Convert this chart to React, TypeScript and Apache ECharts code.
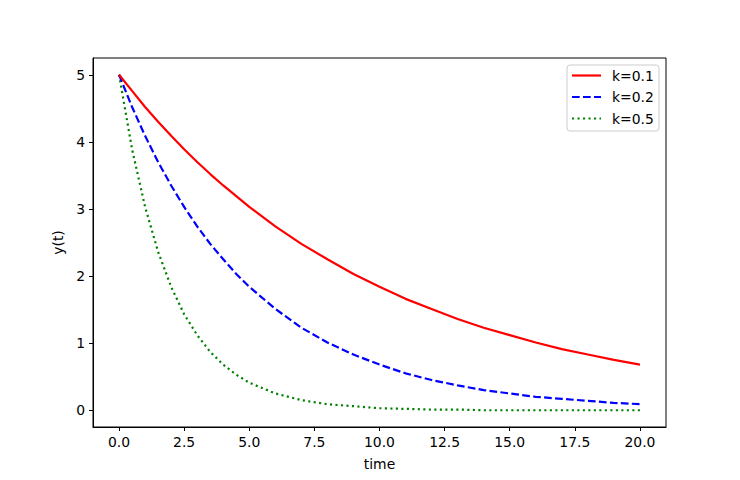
import React, { useEffect, useRef } from "react";
import * as echarts from "echarts";

const timePoints = [0, 0.5, 1, 1.5, 2, 2.5, 3, 3.5, 4, 4.5, 5, 6, 7, 8, 9, 10, 11, 12, 13, 14, 15, 16, 17, 18, 19, 20];
const yK01 = [5.0, 4.76, 4.52, 4.3, 4.09, 3.89, 3.7, 3.52, 3.35, 3.19, 3.03, 2.74, 2.48, 2.25, 2.03, 1.84, 1.66, 1.51, 1.36, 1.23, 1.12, 1.01, 0.91, 0.83, 0.75, 0.68];
const yK02 = [5.0, 4.52, 4.09, 3.7, 3.35, 3.03, 2.74, 2.48, 2.25, 2.03, 1.84, 1.51, 1.23, 1.01, 0.83, 0.68, 0.55, 0.45, 0.37, 0.3, 0.25, 0.2, 0.17, 0.14, 0.11, 0.09];
const yK05 = [5.0, 3.89, 3.03, 2.36, 1.84, 1.43, 1.12, 0.87, 0.68, 0.53, 0.41, 0.25, 0.15, 0.09, 0.06, 0.03, 0.02, 0.01, 0.01, 0.0, 0.0, 0.0, 0.0, 0.0, 0.0, 0.0];
const seriesNames = ["k=0.1", "k=0.2", "k=0.5"];
const xTicks = [0, 2.5, 5, 7.5, 10, 12.5, 15, 17.5, 20];
const yTicks = [0, 1, 2, 3, 4, 5];

const FONT = "DejaVu Sans";
const FS = 13.9;

export default function App() {
  const ref = useRef<HTMLDivElement>(null);
  useEffect(() => {
    document.body.style.margin = "0";
    const chart = echarts.init(ref.current!, null, { renderer: "svg" });
    const pairs = (ys: number[]) => timePoints.map((t, i) => [t, ys[i]]);
    const styles = [
      { color: "#ff0000", type: "solid" as any },
      { color: "#0000ff", type: [7.7, 3.3] as any },
      { color: "#008000", type: [2.1, 3.4] as any },
    ];
    const datas = [yK01, yK02, yK05];
    const legendY = [75.5, 97, 118.5];
    chart.setOption({
      animation: false,
      grid: { left: 93, right: 74, top: 58, bottom: 53, show: true, borderColor: "#000", borderWidth: 1, backgroundColor: "transparent" },
      xAxis: {
        type: "value",
        min: -1,
        max: 21,
        name: "time",
        nameLocation: "middle",
        nameGap: 30,
        nameTextStyle: { fontFamily: FONT, fontSize: FS, color: "#000" },
        axisLine: { show: true, onZero: false, lineStyle: { color: "#000", width: 1 } },
        axisTick: { show: true, length: 4, customValues: xTicks, lineStyle: { color: "#000" } },
        axisLabel: { customValues: xTicks, fontFamily: FONT, fontSize: FS, color: "#000", margin: 8, formatter: (v: number) => v.toFixed(1) },
        splitLine: { show: false },
      },
      yAxis: {
        type: "value",
        min: -0.25,
        max: 5.25,
        name: "y(t)",
        nameLocation: "middle",
        nameGap: 27,
        nameTextStyle: { fontFamily: FONT, fontSize: FS, color: "#000" },
        axisLine: { show: true, onZero: false, lineStyle: { color: "#000", width: 1 } },
        axisTick: { show: true, length: 4, customValues: yTicks, lineStyle: { color: "#000" } },
        axisLabel: { customValues: yTicks, fontFamily: FONT, fontSize: FS, color: "#000", margin: 8 },
        splitLine: { show: false },
      },
      series: datas.map((d, i) => ({
        name: seriesNames[i],
        type: "line",
        data: pairs(d),
        showSymbol: false,
        symbol: "none",
        smooth: false,
        lineStyle: { color: styles[i].color, width: 2.2, type: styles[i].type },
        z: 3 - i,
      })),
      graphic: [
        {
          type: "rect",
          shape: { x: 567, y: 65, width: 92, height: 66, r: 3 },
          style: { fill: "rgba(255,255,255,0.8)", stroke: "#cccccc", lineWidth: 1 },
          z: 100,
        },
        ...seriesNames.flatMap((n, i) => [
          {
            type: "line",
            shape: { x1: 572, y1: legendY[i], x2: 601, y2: legendY[i] },
            style: { stroke: styles[i].color, lineWidth: 2.2, lineDash: styles[i].type === "solid" ? null : styles[i].type },
            z: 101,
          },
          {
            type: "text",
            x: 612,
            y: legendY[i],
            style: { text: n, fontFamily: FONT, fontSize: FS, fill: "#000", verticalAlign: "middle", align: "left" },
            z: 101,
          },
        ]),
      ],
    });
    return () => chart.dispose();
  }, []);
  return <div ref={ref} style={{ width: 740, height: 480 }} />;
}
